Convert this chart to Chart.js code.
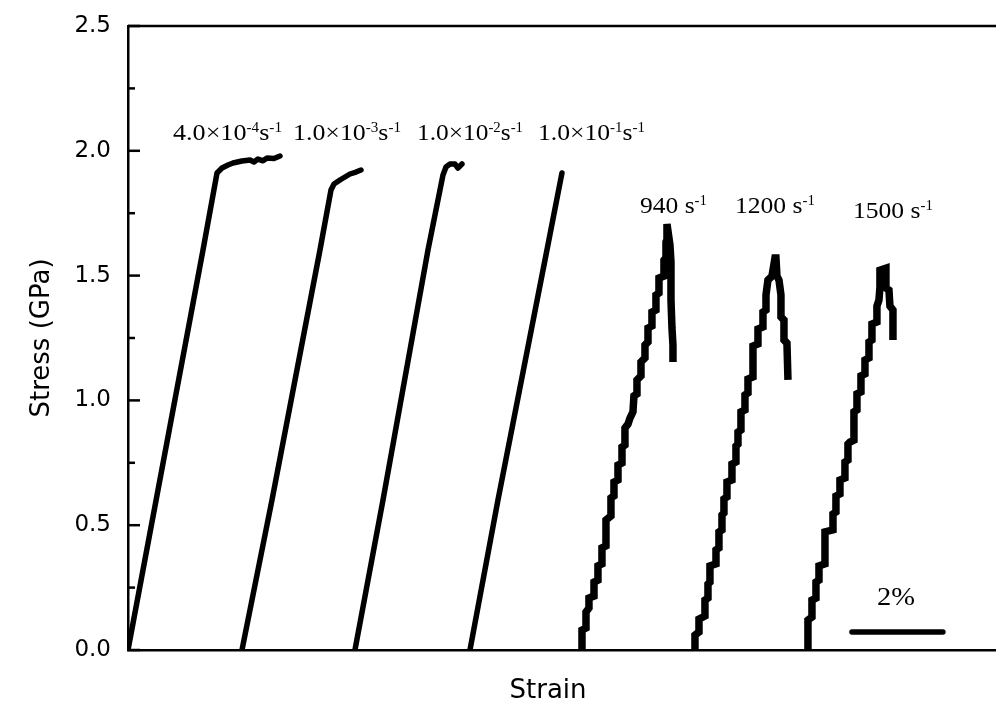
<!DOCTYPE html>
<html>
<head>
<meta charset="utf-8">
<script src="https://cdn.jsdelivr.net/npm/chart.js@4.4.0/dist/chart.umd.min.js"></script>
<style>
  html, body { margin: 0; padding: 0; background: #fff; }
  #wrap { width: 996px; height: 724px; }
</style>
</head>
<body>
<div id="wrap"><canvas id="c" width="996" height="724"></canvas></div>
<script>
// strain (%) / stress (GPa) pairs
const curve4e4 = [[0,0],[1.667,1.603],[1.978,1.911],[2.089,1.931],[2.222,1.943],[2.333,1.951],[2.533,1.959],[2.711,1.963],[2.80,1.955],[2.889,1.967],[3.0,1.960],[3.089,1.971],[3.244,1.969],[3.378,1.979]];
const curve1e3 = [[2.533,0],[3.2,0.601],[4.267,1.603],[4.511,1.843],[4.578,1.867],[4.711,1.883],[4.933,1.907],[5.067,1.915],[5.178,1.923]];
const curve1e2 = [[5.044,0],[5.667,0.601],[6.667,1.603],[7.0,1.903],[7.067,1.935],[7.156,1.947],[7.267,1.947],[7.333,1.931],[7.422,1.947]];
const curve1e1 = [[7.6,0],[8.222,0.601],[9.311,1.603],[9.644,1.911]];
const curve940 = [[10.089,0],[10.089,0.080],[10.178,0.088],[10.178,0.152],[10.244,0.168],[10.244,0.208],[10.356,0.216],[10.356,0.272],[10.444,0.280],[10.444,0.337],[10.533,0.345],[10.533,0.409],[10.622,0.417],[10.622,0.521],[10.733,0.537],[10.733,0.609],[10.8,0.617],[10.8,0.673],[10.889,0.681],[10.889,0.741],[10.978,0.749],[10.978,0.813],[11.044,0.821],[11.044,0.889],[11.111,0.905],[11.156,0.929],[11.222,0.954],[11.244,1.018],[11.311,1.026],[11.311,1.082],[11.4,1.098],[11.4,1.154],[11.489,1.170],[11.489,1.222],[11.556,1.234],[11.556,1.290],[11.644,1.298],[11.644,1.354],[11.733,1.362],[11.733,1.422],[11.8,1.430],[11.8,1.490],[11.911,1.498],[11.911,1.562],[11.956,1.571],[11.956,1.635],[11.978,1.643],[11.978,1.707],[12.044,1.623],[12.067,1.554],[12.067,1.402],[12.089,1.290],[12.111,1.222],[12.111,1.154]];
const curve1200 = [[12.6,0],[12.6,0.060],[12.689,0.072],[12.689,0.124],[12.822,0.136],[12.822,0.200],[12.889,0.208],[12.889,0.264],[12.933,0.272],[12.933,0.337],[13.067,0.345],[13.067,0.401],[13.133,0.409],[13.133,0.473],[13.2,0.481],[13.2,0.541],[13.244,0.549],[13.244,0.605],[13.311,0.613],[13.311,0.673],[13.422,0.681],[13.422,0.745],[13.511,0.753],[13.511,0.817],[13.556,0.825],[13.556,0.873],[13.622,0.881],[13.622,0.954],[13.711,0.962],[13.711,1.022],[13.778,1.030],[13.778,1.086],[13.889,1.094],[13.889,1.218],[14.0,1.226],[14.0,1.286],[14.111,1.294],[14.111,1.354],[14.178,1.362],[14.178,1.422],[14.222,1.482],[14.311,1.498],[14.378,1.571],[14.4,1.571],[14.422,1.498],[14.467,1.482],[14.511,1.422],[14.511,1.334],[14.578,1.322],[14.578,1.242],[14.644,1.230],[14.667,1.082]];
const curve1500 = [[15.111,0],[15.111,0.120],[15.2,0.132],[15.2,0.200],[15.289,0.208],[15.289,0.272],[15.356,0.280],[15.356,0.337],[15.489,0.345],[15.489,0.473],[15.667,0.481],[15.667,0.545],[15.733,0.553],[15.733,0.617],[15.822,0.625],[15.822,0.681],[15.933,0.689],[15.933,0.753],[16.0,0.761],[16.0,0.825],[16.044,0.833],[16.133,0.841],[16.133,0.954],[16.2,0.962],[16.2,1.026],[16.289,1.034],[16.289,1.098],[16.378,1.106],[16.378,1.162],[16.467,1.170],[16.467,1.234],[16.533,1.242],[16.533,1.306],[16.644,1.314],[16.644,1.378],[16.689,1.402],[16.711,1.454],[16.711,1.522],[16.844,1.530],[16.844,1.450],[16.911,1.442],[16.933,1.378],[17.0,1.362],[17.0,1.242]];
const scaleBar = [[16.089,0.072],[18.111,0.072]];

const yTicks = [0, 0.5, 1.0, 1.5, 2.0, 2.5];
// label pieces: [text, superscript?]
const rateLabels = [
  [['4.0×10',0],['-4',1],['s',0],['-1',1]],
  [['1.0×10',0],['-3',1],['s',0],['-1',1]],
  [['1.0×10',0],['-2',1],['s',0],['-1',1]],
  [['1.0×10',0],['-1',1],['s',0],['-1',1]],
  [['940 s',0],['-1',1]],
  [['1200 s',0],['-1',1]],
  [['1500 s',0],['-1',1]],
  [['2%',0]]
];
// where each label starts (strain, stress at baseline) and its width / font size
const labelSpots = [
  [1.0, 2.043, 109, 24], [3.667, 2.043, 108, 24], [6.422, 2.043, 106, 24], [9.111, 2.043, 107, 24],
  [11.378, 1.751, 67, 24], [13.489, 1.751, 80, 24], [16.111, 1.731, 80, 24],
  [16.644, 0.180, 38, 26]
];

const serif = '"Liberation Serif", "Times New Roman", serif';
const sans = '"DejaVu Sans", sans-serif';

function drawPieces(ctx, parts, x, y, width, size) {
  const big = size + 'px ' + serif, small = Math.round(size * 0.58) + 'px ' + serif;
  let w = 0;
  parts.forEach(p => { ctx.font = p[1] ? small : big; w += ctx.measureText(p[0]).width; });
  const k = width / w;
  ctx.save();
  ctx.translate(x, y);
  ctx.scale(k, 1);
  let cx = 0;
  parts.forEach(p => {
    ctx.font = p[1] ? small : big;
    ctx.fillText(p[0], cx, p[1] ? -size * 0.34 : 0);
    cx += ctx.measureText(p[0]).width;
  });
  ctx.restore();
}

const decor = {
  id: 'decor',
  beforeDraw(chart) {
    const ctx = chart.ctx;
    ctx.save();
    ctx.fillStyle = '#fff';
    ctx.fillRect(0, 0, chart.width, chart.height);
    ctx.restore();
  },
  afterDraw(chart) {
    const ctx = chart.ctx, a = chart.chartArea, xs = chart.scales.x, ys = chart.scales.y;
    ctx.save();
    ctx.strokeStyle = '#000';
    ctx.lineWidth = 2.5;
    // top frame line
    ctx.beginPath();
    ctx.moveTo(a.left, a.top);
    ctx.lineTo(a.right, a.top);
    ctx.stroke();
    // inward ticks on the stress axis
    for (let i = 0; i <= 10; i++) {
      const py = ys.getPixelForValue(i * 0.25);
      const len = i % 2 === 0 ? 12 : 7;
      ctx.beginPath();
      ctx.moveTo(a.left, py);
      ctx.lineTo(a.left + len, py);
      ctx.stroke();
    }
    // axis titles
    ctx.fillStyle = '#000';
    ctx.font = '26px ' + sans;
    ctx.textAlign = 'center';
    ctx.textBaseline = 'alphabetic';
    ctx.fillText('Strain', 548, 698);
    ctx.save();
    ctx.translate(49, 338);
    ctx.rotate(-Math.PI / 2);
    ctx.fillText('Stress (GPa)', 0, 0);
    ctx.restore();
    // curve labels
    ctx.textAlign = 'left';
    rateLabels.forEach((parts, i) => {
      const s = labelSpots[i];
      drawPieces(ctx, parts, xs.getPixelForValue(s[0]), ys.getPixelForValue(s[1]), s[2], s[3]);
    });
    ctx.restore();
  }
};

function line(data, w, sharp) {
  return {
    data: data.map(p => ({ x: p[0], y: p[1] })),
    showLine: true, borderColor: '#000', backgroundColor: '#000',
    borderWidth: w, pointRadius: 0, tension: 0, fill: false,
    borderJoinStyle: sharp ? 'miter' : 'round', borderCapStyle: sharp ? 'butt' : 'round'
  };
}

new Chart(document.getElementById('c'), {
  type: 'scatter',
  data: {
    datasets: [
      line(curve4e4, 5.5), line(curve1e3, 5.5), line(curve1e2, 5.5), line(curve1e1, 5.5),
      line(curve940, 7.5, true), line(curve1200, 7.5, true), line(curve1500, 7.5, true),
      line(scaleBar, 5.5)
    ]
  },
  options: {
    responsive: false,
    animation: false,
    devicePixelRatio: 1,
    layout: { padding: { top: 26, right: 0, left: 0, bottom: 0 } },
    plugins: { legend: { display: false }, tooltip: { enabled: false } },
    scales: {
      x: {
        type: 'linear', min: 0, max: 19.29,
        grid: { display: false, drawTicks: false },
        border: { display: true, color: '#000', width: 2.5 },
        ticks: { display: false },
        afterFit(s) { s.height = 74; }
      },
      y: {
        type: 'linear', min: 0, max: 2.5,
        grid: { display: false, drawTicks: false },
        border: { display: true, color: '#000', width: 2.5 },
        ticks: {
          stepSize: 0.5, padding: 17, color: '#000',
          font: { family: 'DejaVu Sans', size: 23, lineHeight: 0.02 },
          callback: v => yTicks.includes(v) ? v.toFixed(1) : ''
        },
        afterFit(s) { s.width = 128; s.paddingTop = 0; s.paddingBottom = 0; }
      }
    }
  },
  plugins: [decor]
});
</script>
</body>
</html>
